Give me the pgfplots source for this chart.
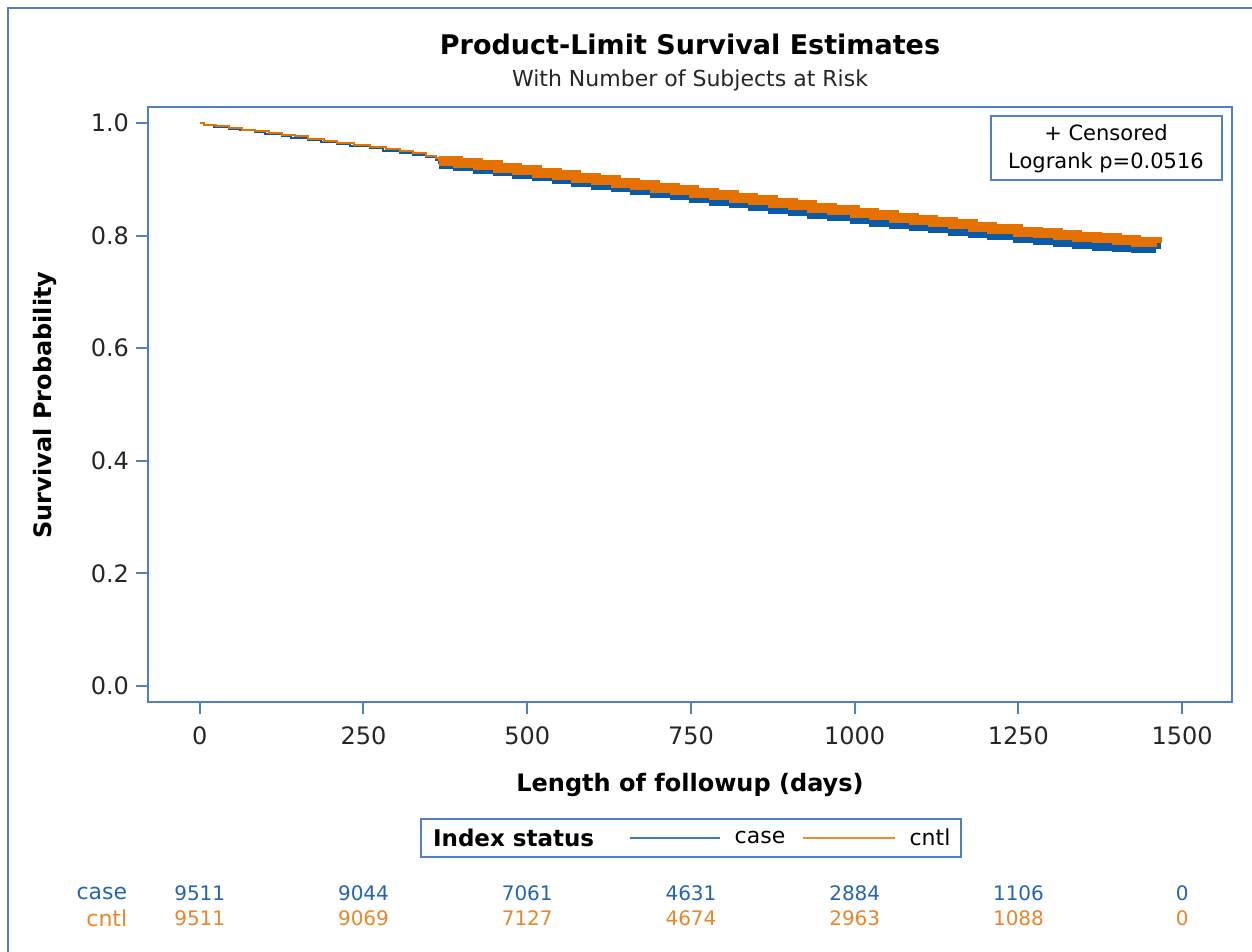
\documentclass[border=0pt]{standalone}
\usepackage{fontspec}
\setmainfont{DejaVu Sans}
\usepackage{pgfplots}
\usepackage{pgfplotstable}
\pgfplotsset{compat=1.18}
\definecolor{axisblue}{RGB}{79,129,189}
\definecolor{caseblue}{RGB}{11,90,168}
\definecolor{cntlorange}{RGB}{229,114,0}
\definecolor{casetxt}{RGB}{38,100,175}
\definecolor{cntltxt}{RGB}{232,134,42}

\pgfplotstableread{
d s
0 1.000
6 0.997
25 0.994
45 0.991
65 0.988
85 0.985
105 0.982
125 0.979
145 0.976
165 0.972
190 0.968
210 0.965
235 0.961
260 0.957
285 0.953
305 0.950
325 0.946
345 0.942
360 0.937
365 0.933
}\cntlthin
\pgfplotstableread{
d s
0 1.000
6 0.997
22 0.993
45 0.990
62 0.987
85 0.984
100 0.981
125 0.977
140 0.974
165 0.970
185 0.966
210 0.962
230 0.959
260 0.955
280 0.951
305 0.947
325 0.944
345 0.939
360 0.934
365 0.928
}\casethin
\pgfplotstableread{
d s
365 0.933
395 0.929
425 0.925
455 0.920
485 0.916
515 0.912
545 0.907
575 0.903
605 0.899
635 0.894
665 0.890
695 0.885
725 0.881
755 0.876
785 0.872
815 0.867
845 0.863
875 0.858
905 0.854
935 0.849
965 0.845
1000 0.840
1030 0.836
1060 0.832
1090 0.828
1120 0.824
1150 0.820
1180 0.816
1210 0.812
1250 0.807
1280 0.804
1310 0.801
1340 0.798
1370 0.795
1400 0.792
1430 0.789
1462 0.786
}\cntlband
\pgfplotstableread{
d s
365 0.928
395 0.924
425 0.919
455 0.914
485 0.910
515 0.905
545 0.900
575 0.895
605 0.890
635 0.886
665 0.881
695 0.876
725 0.872
755 0.867
785 0.862
815 0.857
845 0.853
875 0.848
905 0.843
935 0.838
965 0.834
1000 0.829
1030 0.825
1060 0.821
1090 0.817
1120 0.813
1150 0.809
1180 0.805
1210 0.801
1250 0.796
1280 0.793
1310 0.789
1340 0.785
1370 0.782
1400 0.780
1430 0.778
1460 0.776
}\caseband

\begin{document}
\begin{tikzpicture}[x=1pt,y=1pt]
\path[use as bounding box] (0,0) rectangle (626,476);
% outer frame
\draw[axisblue, line width=1pt] (4,0) -- (4,472) -- (626,472);
% titles
\node[anchor=base, font=\bfseries\fontsize{13.5}{16}\selectfont] at (345,448.5) {Product-Limit Survival Estimates};
\node[anchor=base, font=\fontsize{11}{13}\selectfont, text=black!85] at (345,432.5) {With Number of Subjects at Risk};
% axis labels
\node[anchor=base, font=\bfseries\fontsize{12}{14}\selectfont] at (345,80) {Length of followup (days)};
\node[rotate=90, font=\bfseries\fontsize{12}{14}\selectfont] at (22.5,273.5) {Survival Probability};
\begin{axis}[
  at={(74pt,125pt)}, anchor=south west, scale only axis,
  width=542pt, height=297.5pt,
  xmin=-79, xmax=1576, ymin=-0.0284, ymax=1.0284,
  axis line style={axisblue, line width=1pt},
  xtick={0,250,500,750,1000,1250,1500},
  ytick={0,0.2,0.4,0.6,0.8,1},
  tick align=outside, major tick length=6pt,
  tick style={axisblue, line width=1pt},
  xtick pos=left, ytick pos=left,
  /pgf/number format/assume math mode=true,
  ticklabel style={font=\fontsize{12}{14}\selectfont, text=black!85},
  yticklabel style={/pgf/number format/fixed, /pgf/number format/fixed zerofill, /pgf/number format/precision=1},
  xticklabel style={/pgf/number format/1000 sep={}, yshift=-3pt},
  clip=false,
]
\addplot[const plot, caseblue, line width=1pt] table[x=d,y=s] {\casethin};
\addplot[const plot, cntlorange, line width=1pt] table[x=d,y=s] {\cntlthin};
\addplot[const plot, caseblue, line width=5pt] table[x=d,y=s] {\caseband};
\addplot[const plot, cntlorange, line width=5pt] table[x=d,y=s] {\cntlband};
% number at risk
\begin{scope}[every node/.style={font=\fontsize{10}{12}\selectfont}]
\node[casetxt, anchor=east, font=\fontsize{11}{13}\selectfont] at (axis cs:-100,-0.3677) {case};
\node[cntltxt, anchor=east, font=\fontsize{11}{13}\selectfont] at (axis cs:-100,-0.412) {cntl};
\node[casetxt] at (axis cs:0,-0.3677) {9511};
\node[casetxt] at (axis cs:250,-0.3677) {9044};
\node[casetxt] at (axis cs:500,-0.3677) {7061};
\node[casetxt] at (axis cs:750,-0.3677) {4631};
\node[casetxt] at (axis cs:1000,-0.3677) {2884};
\node[casetxt] at (axis cs:1250,-0.3677) {1106};
\node[casetxt] at (axis cs:1500,-0.3677) {0};
\node[cntltxt] at (axis cs:0,-0.412) {9511};
\node[cntltxt] at (axis cs:250,-0.412) {9069};
\node[cntltxt] at (axis cs:500,-0.412) {7127};
\node[cntltxt] at (axis cs:750,-0.412) {4674};
\node[cntltxt] at (axis cs:1000,-0.412) {2963};
\node[cntltxt] at (axis cs:1250,-0.412) {1088};
\node[cntltxt] at (axis cs:1500,-0.412) {0};
\end{scope}
\end{axis}
% inset box
\draw[axisblue, line width=0.8pt, fill=white] (495.5,386) rectangle (611,418);
\node[font=\fontsize{10.5}{12}\selectfont] at (553,409.5) {+ Censored};
\node[font=\fontsize{10.5}{12}\selectfont] at (553,394.5) {Logrank p=0.0516};
% legend
\draw[axisblue, line width=1pt] (210.5,47.5) rectangle (480.5,66.5);
\node[anchor=west, font=\bfseries\fontsize{11.5}{13}\selectfont] at (213,57) {Index status};
\draw[caseblue!80, line width=1pt] (315,57) -- (360,57);
\node[font=\fontsize{11}{13}\selectfont] at (380,57.5) {case};
\draw[cntlorange!80, line width=1pt] (401.5,57) -- (447.5,57);
\node[font=\fontsize{11}{13}\selectfont] at (465,57.5) {cntl};
\end{tikzpicture}
\end{document}
